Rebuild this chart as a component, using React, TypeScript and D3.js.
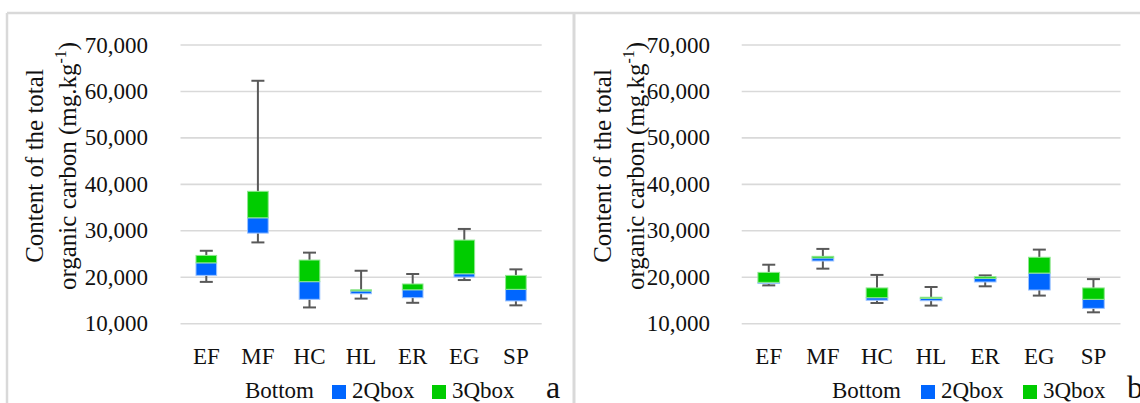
import React from 'react';
import * as d3 from 'd3';

// categories and box plot statistics
const categories = ['EF', 'MF', 'HC', 'HL', 'ER', 'EG', 'SP'];
const yTicks = [10000, 20000, 30000, 40000, 50000, 60000, 70000];

const minA = [19000, 27500, 13500, 15400, 14500, 19400, 13950];
const q1A = [20400, 29500, 15250, 16450, 15600, 20050, 14900];
const medA = [23100, 32800, 19050, 17050, 17300, 20750, 17400];
const q3A = [24700, 38500, 23700, 17300, 18550, 28000, 20400];
const maxA = [25700, 62300, 25300, 21400, 20700, 30400, 21700];

const minB = [18250, 21850, 14450, 13900, 18050, 16050, 12450];
const q1B = [18650, 23500, 15050, 14950, 18980, 17250, 13300];
const medB = [18900, 24150, 15600, 15450, 19750, 20900, 15250];
const q3B = [21050, 24500, 17700, 15700, 20100, 24300, 17700];
const maxB = [22700, 26100, 20500, 17900, 20400, 25950, 19600];

const legendLabels = ['Bottom', '2Qbox', '3Qbox'];

const BLUE = '#0066ff';
const GREEN = '#00cc00';
const GRID = '#d9d9d9';
const WHISKER = '#595959';
const FONT = 'Liberation Serif';

const panels = [
  {
    letter: 'a', left: 7, x0: 180.5, x1: 541.7, tickX: 148, title1X: 43, title2X: 76,
    legend: { bottom: 245, blueSq: 332, twoQ: 352, greenSq: 432, threeQ: 452, letter: 546 },
    min: minA, q1: q1A, med: medA, q3: q3A, max: maxA,
  },
  {
    letter: 'b', left: 574, x0: 741.7, x1: 1120.5, tickX: 710, title1X: 611, title2X: 644,
    legend: { bottom: 832, blueSq: 921, twoQ: 941, greenSq: 1023, threeQ: 1043, letter: 1127 },
    min: minB, q1: q1B, med: medB, q3: q3B, max: maxB,
  },
];

const width = 1140;
const height = 403;
const titleY = 166;
const catY = 364;
const legendY = 398;

const yScale = d3.scaleLinear().domain([10000, 70000]).range([323.7, 45]);
const fmt = d3.format(',');

const Label = (props) => <text fontFamily={FONT} fill='#111' {...props} />;

const Panel = ({ p }) => {
  const xScale = d3.scaleBand().domain(categories).range([p.x0, p.x1]).padding(0);
  const boxW = xScale.bandwidth() * 0.4;
  const capW = 13;

  return (
    <g>
      {yTicks.map(t => (
        <g key={`t-${t}`}>
          <line x1={p.x0} x2={p.x1} y1={yScale(t)} y2={yScale(t)} stroke={GRID} strokeWidth={1.6} />
          <Label x={p.tickX} y={yScale(t)} textAnchor='end' dominantBaseline='central' fontSize={23}>
            {fmt(t)}
          </Label>
        </g>
      ))}

      <g transform={`translate(${p.title1X}, ${titleY}) rotate(-90)`}>
        <Label textAnchor='middle' fontSize={25}>Content of the total</Label>
      </g>
      <g transform={`translate(${p.title2X}, ${titleY}) rotate(-90)`}>
        <Label textAnchor='middle' fontSize={25}>
          organic carbon (mg.kg<tspan fontSize={16} dy={-10}>-1</tspan><tspan dy={10}>)</tspan>
        </Label>
      </g>

      {categories.map((c, i) => {
        const cx = xScale(c) + xScale.bandwidth() / 2;
        const bx = cx - boxW / 2;
        return (
          <g key={`box-${c}`}>
            <line x1={cx} x2={cx} y1={yScale(p.q1[i])} y2={yScale(p.min[i])} stroke={WHISKER} strokeWidth={2} />
            <line x1={cx - capW / 2} x2={cx + capW / 2} y1={yScale(p.min[i])} y2={yScale(p.min[i])} stroke={WHISKER} strokeWidth={2} />
            <line x1={cx} x2={cx} y1={yScale(p.q3[i])} y2={yScale(p.max[i])} stroke={WHISKER} strokeWidth={2} />
            <line x1={cx - capW / 2} x2={cx + capW / 2} y1={yScale(p.max[i])} y2={yScale(p.max[i])} stroke={WHISKER} strokeWidth={2} />
            <rect x={bx} width={boxW} y={yScale(p.med[i])} height={yScale(p.q1[i]) - yScale(p.med[i])}
              fill={BLUE} stroke='#9cc3ff' strokeWidth={1} />
            <rect x={bx} width={boxW} y={yScale(p.q3[i])} height={yScale(p.med[i]) - yScale(p.q3[i])}
              fill={GREEN} stroke='#8fe68f' strokeWidth={1} />
            <Label x={cx} y={catY} textAnchor='middle' fontSize={23}>{c}</Label>
          </g>
        );
      })}

      <Label x={p.legend.bottom} y={legendY} fontSize={23}>{legendLabels[0]}</Label>
      <rect x={p.legend.blueSq} y={legendY - 13} width={14} height={14} fill={BLUE} />
      <Label x={p.legend.twoQ} y={legendY} fontSize={23}>{legendLabels[1]}</Label>
      <rect x={p.legend.greenSq} y={legendY - 13} width={14} height={14} fill={GREEN} />
      <Label x={p.legend.threeQ} y={legendY} fontSize={23}>{legendLabels[2]}</Label>
      <Label x={p.legend.letter} y={legendY} fontSize={32}>{p.letter}</Label>
    </g>
  );
};

export default function App() {
  return (
    <svg width={width} height={height} style={{ position: 'absolute', left: 0, top: 0, background: '#fff' }}>
      <rect x={0} y={0} width={width} height={height} fill='#fff' />
      {/* panel frames */}
      <line x1={7} x2={width} y1={13} y2={13} stroke={GRID} strokeWidth={2.5} />
      <line x1={7} x2={7} y1={13} y2={height} stroke={GRID} strokeWidth={2.5} />
      <line x1={574} x2={574} y1={13} y2={height} stroke={GRID} strokeWidth={3} />
      {panels.map(p => <Panel key={p.letter} p={p} />)}
    </svg>
  );
}
